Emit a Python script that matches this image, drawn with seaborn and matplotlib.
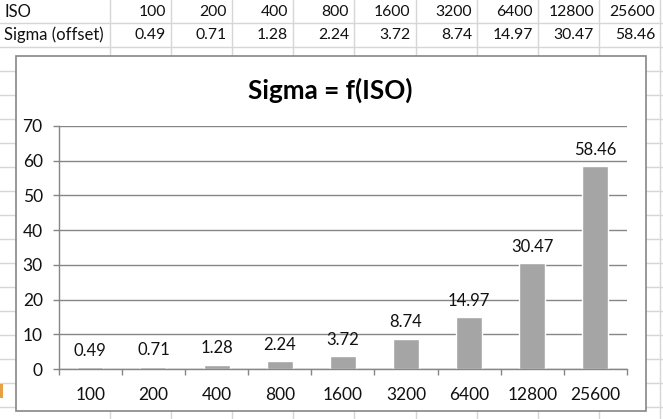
import matplotlib
matplotlib.use("Agg")
import matplotlib.pyplot as plt
import seaborn as sns
import pandas as pd
import numpy as np
from matplotlib.patches import Rectangle

# ---- data ----
iso_labels = ["100", "200", "400", "800", "1600", "3200", "6400", "12800", "25600"]
sigma_values = [0.49, 0.71, 1.28, 2.24, 3.72, 8.74, 14.97, 30.47, 58.46]
sigma_text = ["0.49", "0.71", "1.28", "2.24", "3.72", "8.74", "14.97", "30.47", "58.46"]
row_headers = ["ISO", "Sigma (offset)"]
title_text = "Sigma = f(ISO)"
y_ticks = [0, 10, 20, 30, 40, 50, 60, 70]

sns.set_theme(style="white")
plt.rcParams['font.family'] = ['Lato', 'DejaVu Sans']

W, H = 663, 419
fig = plt.figure(figsize=(W / 100, H / 100), dpi=100)
fig.patch.set_facecolor("white")

# spreadsheet background
bg = fig.add_axes([0, 0, 1, 1])
bg.set_xlim(0, W)
bg.set_ylim(H, 0)
bg.axis("off")
grid_c = "#D6D6D6"
col_lines = [110, 171, 232, 293, 354, 415.5, 477, 538, 599, 660]
row_lines = [23 + 24 * k for k in range(17)]
for x in col_lines:
    bg.plot([x, x], [0, H], color=grid_c, lw=1, zorder=1)
for y in row_lines:
    bg.plot([0, W], [y, y], color=grid_c, lw=1, zorder=1)
bg.add_patch(Rectangle((0, 384), 2.5, 14, facecolor="#E8A040", edgecolor="none", zorder=1))

# table text
hfs, nfs = 12, 11.3
bg.text(4, 12, row_headers[0], ha="left", va="center", fontsize=hfs, color="#111111", zorder=2)
bg.text(4, 35, row_headers[1], ha="left", va="center", fontsize=hfs, color="#111111", zorder=2)
for i in range(9):
    xr = col_lines[i + 1] - 5
    bg.text(xr, 12, iso_labels[i], ha="right", va="center", fontsize=nfs, color="#111111", zorder=2)
    bg.text(xr, 35, sigma_text[i], ha="right", va="center", fontsize=nfs, color="#111111", zorder=2)

# chart box
bg.add_patch(Rectangle((15.5, 56), 630.5, 355, facecolor="white", edgecolor="#868686", lw=1.2, zorder=5))
bg.text(330, 90, title_text, ha="center", va="center", fontsize=18.8, weight="bold", color="#000000", zorder=6)

# bar chart axes
ax = fig.add_axes([58.7 / W, (H - 369) / H, (627 - 58.7) / W, 243 / H])
ax.set_zorder(10)
ax.patch.set_alpha(0)

df = pd.DataFrame({"ISO": iso_labels, "Sigma": sigma_values})
sns.barplot(data=df, x="ISO", y="Sigma", color="#A5A5A5", width=0.41, saturation=1, ax=ax)

ax.set_xlim(-0.5, 8.5)
ax.set_ylim(0, 70)
ax.set_yticks(y_ticks)
ax.yaxis.grid(True, color="#868686", lw=1)
ax.xaxis.grid(False)
ax.set_axisbelow(True)
for s in ["top", "right"]:
    ax.spines[s].set_visible(False)
for s in ["left", "bottom"]:
    ax.spines[s].set_color("#868686")
    ax.spines[s].set_linewidth(1)

ax.tick_params(axis="y", length=4.5, width=1, color="#868686", pad=7, labelsize=12.5, labelcolor="#111111", left=True)
ax.tick_params(axis="x", which="major", length=0, pad=13, labelsize=12.5, labelcolor="#111111")
ax.set_xticks(np.arange(-0.5, 9, 1), minor=True)
ax.tick_params(axis="x", which="minor", length=4.5, width=1, color="#868686", direction="out", bottom=True)
ax.set_xlabel("")
ax.set_ylabel("")

ax.bar_label(ax.containers[0], labels=sigma_text, padding=6, fontsize=12, color="#111111")

fig.savefig("out.png", dpi=100, facecolor="white")
